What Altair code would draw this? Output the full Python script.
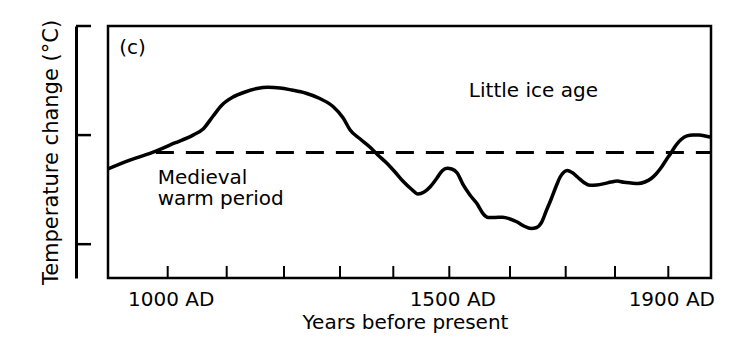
import altair as alt
import pandas as pd

# Curve (year AD, relative temperature in tick units)
years = [899, 936, 980, 1012, 1043, 1060, 1077, 1092, 1111, 1132,
         1153, 1172, 1193, 1214, 1238, 1264, 1288, 1306, 1319, 1338,
         1356, 1371, 1388, 1403, 1417, 1432, 1444, 1455, 1466, 1478,
         1487, 1496, 1504, 1513, 1523, 1534, 1546, 1556, 1564, 1575,
         1588, 1600, 1613, 1625, 1638, 1648, 1656, 1665, 1674, 1683,
         1690, 1697, 1703, 1713, 1725, 1737, 1749, 1763, 1778, 1792,
         1804, 1817, 1830, 1843, 1856, 1868, 1877, 1886, 1896, 1905,
         1914, 1924, 1935, 1946, 1958, 1969, 1980]
temps = [-0.31, -0.23, -0.146, -0.072, 0.0, 0.056, 0.175, 0.276, 0.349, 0.395,
         0.427, 0.438, 0.432, 0.413, 0.386, 0.335, 0.26, 0.157, 0.047, -0.036,
         -0.109, -0.182, -0.258, -0.338, -0.421, -0.494, -0.54, -0.522, -0.473, -0.393,
         -0.329, -0.304, -0.311, -0.347, -0.457, -0.549, -0.632, -0.723, -0.755, -0.755,
         -0.753, -0.769, -0.797, -0.833, -0.856, -0.847, -0.806, -0.696, -0.586, -0.467,
         -0.384, -0.338, -0.324, -0.343, -0.389, -0.434, -0.46, -0.457, -0.445, -0.43,
         -0.421, -0.433, -0.439, -0.444, -0.43, -0.398, -0.357, -0.302, -0.228, -0.164,
         -0.095, -0.04, -0.008, 0.001, 0.0, -0.008, -0.02]

# Dashed reference level
ref_start = [980]
ref_end = [1980]
ref_level = [-0.16]

# Axis ticks (the drawn time axis is slightly uneven, so the scale is piecewise)
x_tick_years = [1000, 1100, 1200, 1300, 1400, 1500, 1600, 1700, 1800, 1900]
x_label_years = [1000, 1500, 1900]
y_tick_values = [1.0, 0.0, -1.0]
x_scale_years = [899, 1000, 1100, 1200, 1300, 1400, 1500, 1600, 1700, 1800, 1900, 1980]
x_scale_pixels = [0, 59.7, 118.7, 176, 232, 285.3, 341.3, 402, 457.7, 507, 560.3, 603]

# Annotations
ann_text = ["(c)", "Little ice age", "Medieval\nwarm period"]
ann_year = [918, 1642, 983]
ann_value = [0.743, 0.352, -0.452]
ann_align = ["left", "center", "left"]

Y_DOMAIN = [-1.31, 1.0]
FONT = "DejaVu Sans"

xs = alt.Scale(domain=x_scale_years, range=x_scale_pixels, nice=False, zero=False)
ys = alt.Scale(domain=Y_DOMAIN, nice=False, zero=False)

curve_df = pd.DataFrame({"year": years, "temp": temps})
ref_df = pd.DataFrame({"year": ref_start, "year_end": ref_end, "temp": ref_level})
xt_df = pd.DataFrame({"year": x_tick_years})
yt_df = pd.DataFrame({"temp": y_tick_values})
ann_df = pd.DataFrame({"t": ann_text, "year": ann_year, "temp": ann_value, "al": ann_align})

curve = alt.Chart(curve_df).mark_line(
    color="black", strokeWidth=3.5, interpolate="monotone"
).encode(
    x=alt.X("year:Q", scale=xs, axis=alt.Axis(
        values=x_label_years, labelExpr="datum.value + ' AD'",
        title="Years before present", grid=False, domain=False,
        ticks=False, tickSize=0, labelPadding=27, labelBaseline="alphabetic",
        labelOverlap=False, labelFlush=False, labelOffset=3,
        titleX=297, titleY=50, titleBaseline="alphabetic", titleAlign="center")),
    y=alt.Y("temp:Q", scale=ys, axis=alt.Axis(
        title="Temperature change (°C)", labels=False, ticks=False, grid=False,
        domain=True, domainColor="black", domainWidth=3, offset=32,
        titleAngle=270, titleX=-19, titleY=126, titleAlign="center",
        titleBaseline="alphabetic", titleFontSize=21)),
)

ref = alt.Chart(ref_df).mark_rule(
    color="black", strokeWidth=3, strokeDash=[18, 12]
).encode(
    x=alt.X("year:Q", scale=xs),
    x2="year_end:Q",
    y=alt.Y("temp:Q", scale=ys),
)

xticks = alt.Chart(xt_df).mark_rule(color="black", strokeWidth=2).encode(
    x=alt.X("year:Q", scale=xs),
    y=alt.value(252),
    y2=alt.value(240),
)

yticks = alt.Chart(yt_df).mark_rule(color="black", strokeWidth=2.5).encode(
    y=alt.Y("temp:Q", scale=ys),
    x=alt.value(-32),
    x2=alt.value(-17),
)

def ann(align):
    return alt.Chart(ann_df).transform_filter(
        alt.datum.al == align
    ).mark_text(
        align=align, baseline="alphabetic", font=FONT, fontSize=20, color="black",
        lineBreak="\n", lineHeight=21,
    ).encode(
        x=alt.X("year:Q", scale=xs),
        y=alt.Y("temp:Q", scale=ys),
        text="t:N",
    )

chart = alt.layer(curve, ref, xticks, yticks, ann("left"), ann("center")).properties(
    width=603,
    height=252,
    autosize=alt.AutoSizeParams(type="none"),
    padding={"left": 100, "top": 18, "right": 22, "bottom": 75},
    background="white",
).configure_view(
    stroke="black", strokeWidth=2.5
).configure_axis(
    labelFont=FONT, titleFont=FONT, labelFontSize=20, titleFontSize=20,
    labelColor="black", titleColor="black", titleFontWeight="normal",
)

chart.save("out.html", embed_options={"renderer": "svg", "actions": False})
